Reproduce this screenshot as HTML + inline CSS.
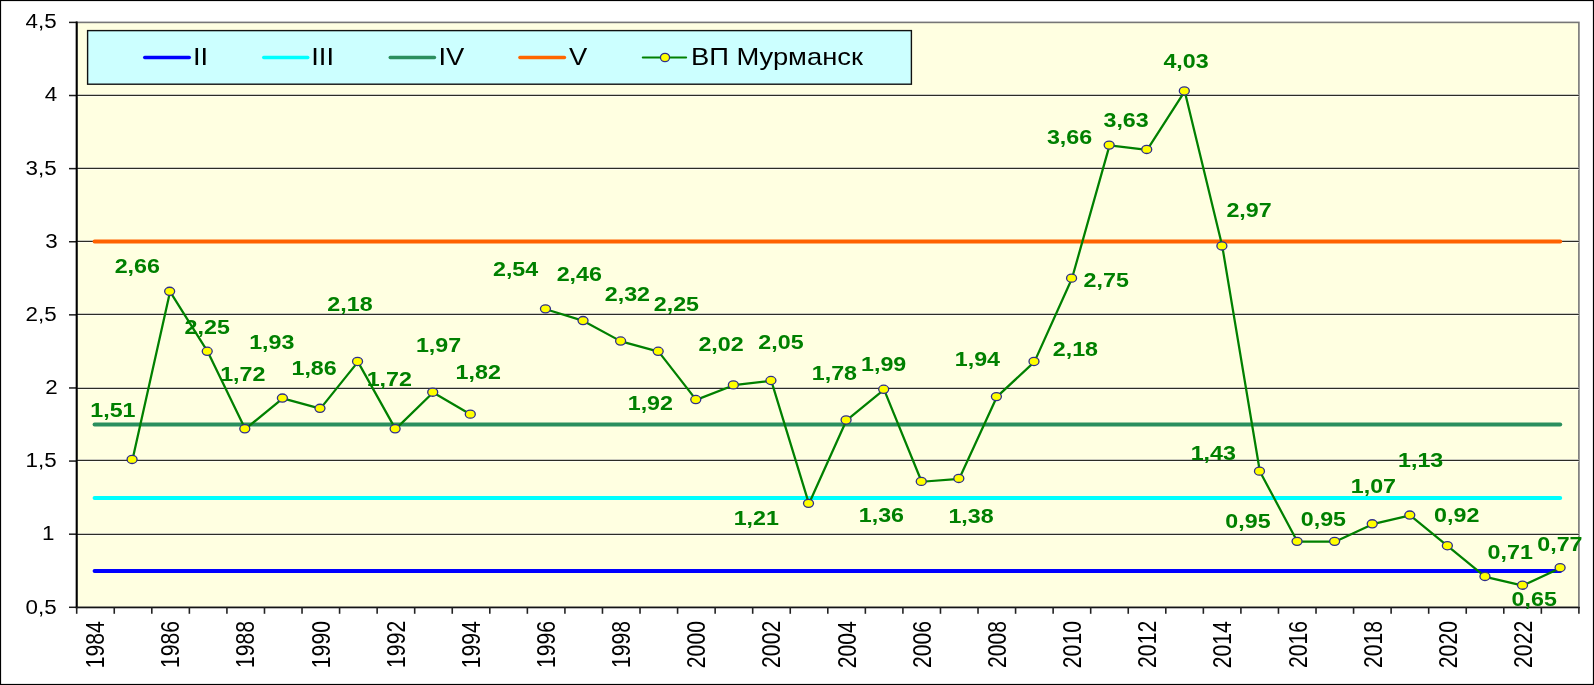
<!DOCTYPE html>
<html><head><meta charset="utf-8"><style>
html,body{margin:0;padding:0;background:#fff;width:1594px;height:685px;overflow:hidden}
svg{display:block;will-change:transform}
text{font-family:"Liberation Sans",Arial,sans-serif}
</style></head><body>
<svg width="1594" height="685" viewBox="0 0 1594 685">
<rect x="0" y="0" width="1594" height="685" fill="#ffffff"/>
<rect x="76.70" y="22.40" width="1502.20" height="584.90" fill="#FFFFE1" stroke="#767676" stroke-width="1.6"/>
<line x1="76.70" y1="95.50" x2="1578.90" y2="95.50" stroke="#fff" stroke-opacity="0.55" stroke-width="3.2"/>
<line x1="76.70" y1="95.42" x2="1578.90" y2="95.42" stroke="#2c2c26" stroke-width="1.3"/>
<line x1="76.70" y1="168.50" x2="1578.90" y2="168.50" stroke="#fff" stroke-opacity="0.55" stroke-width="3.2"/>
<line x1="76.70" y1="168.42" x2="1578.90" y2="168.42" stroke="#2c2c26" stroke-width="1.3"/>
<line x1="76.70" y1="241.50" x2="1578.90" y2="241.50" stroke="#fff" stroke-opacity="0.55" stroke-width="3.2"/>
<line x1="76.70" y1="241.42" x2="1578.90" y2="241.42" stroke="#2c2c26" stroke-width="1.3"/>
<line x1="76.70" y1="314.50" x2="1578.90" y2="314.50" stroke="#fff" stroke-opacity="0.55" stroke-width="3.2"/>
<line x1="76.70" y1="314.42" x2="1578.90" y2="314.42" stroke="#2c2c26" stroke-width="1.3"/>
<line x1="76.70" y1="388.50" x2="1578.90" y2="388.50" stroke="#fff" stroke-opacity="0.55" stroke-width="3.2"/>
<line x1="76.70" y1="388.42" x2="1578.90" y2="388.42" stroke="#2c2c26" stroke-width="1.3"/>
<line x1="76.70" y1="460.50" x2="1578.90" y2="460.50" stroke="#fff" stroke-opacity="0.55" stroke-width="3.2"/>
<line x1="76.70" y1="460.42" x2="1578.90" y2="460.42" stroke="#2c2c26" stroke-width="1.3"/>
<line x1="76.70" y1="534.50" x2="1578.90" y2="534.50" stroke="#fff" stroke-opacity="0.55" stroke-width="3.2"/>
<line x1="76.70" y1="534.42" x2="1578.90" y2="534.42" stroke="#2c2c26" stroke-width="1.3"/>
<line x1="69" y1="22.40" x2="76.70" y2="22.40" stroke="#1a1a1a" stroke-width="1.5"/>
<text transform="translate(25.49,27.52) scale(1.160,1)" font-size="19.30" fill="#000">4,5</text>
<line x1="69" y1="95.51" x2="76.70" y2="95.51" stroke="#1a1a1a" stroke-width="1.5"/>
<text transform="translate(44.76,101.42) scale(1.160,1)" font-size="19.30" fill="#000">4</text>
<line x1="69" y1="168.62" x2="76.70" y2="168.62" stroke="#1a1a1a" stroke-width="1.5"/>
<text transform="translate(25.49,174.62) scale(1.160,1)" font-size="19.30" fill="#000">3,5</text>
<line x1="69" y1="241.74" x2="76.70" y2="241.74" stroke="#1a1a1a" stroke-width="1.5"/>
<text transform="translate(45.15,247.53) scale(1.160,1)" font-size="19.30" fill="#000">3</text>
<line x1="69" y1="314.85" x2="76.70" y2="314.85" stroke="#1a1a1a" stroke-width="1.5"/>
<text transform="translate(25.49,321.02) scale(1.160,1)" font-size="19.30" fill="#000">2,5</text>
<line x1="69" y1="387.96" x2="76.70" y2="387.96" stroke="#1a1a1a" stroke-width="1.5"/>
<text transform="translate(45.29,393.73) scale(1.160,1)" font-size="19.30" fill="#000">2</text>
<line x1="69" y1="461.07" x2="76.70" y2="461.07" stroke="#1a1a1a" stroke-width="1.5"/>
<text transform="translate(25.49,467.32) scale(1.160,1)" font-size="19.30" fill="#000">1,5</text>
<line x1="69" y1="534.19" x2="76.70" y2="534.19" stroke="#1a1a1a" stroke-width="1.5"/>
<text transform="translate(42.09,539.92) scale(1.160,1)" font-size="19.30" fill="#000">1</text>
<line x1="69" y1="607.30" x2="76.70" y2="607.30" stroke="#1a1a1a" stroke-width="1.5"/>
<text transform="translate(25.49,613.52) scale(1.160,1)" font-size="19.30" fill="#000">0,5</text>
<line x1="94.59" y1="570.90" x2="1560.21" y2="570.90" stroke="#0000FF" stroke-width="4" stroke-linecap="round"/>
<line x1="94.59" y1="498.00" x2="1560.21" y2="498.00" stroke="#00FFFF" stroke-width="4" stroke-linecap="round"/>
<line x1="94.59" y1="424.40" x2="1560.21" y2="424.40" stroke="#2A8F5E" stroke-width="4" stroke-linecap="round"/>
<line x1="94.59" y1="241.50" x2="1560.21" y2="241.50" stroke="#FF6200" stroke-width="4" stroke-linecap="round"/>
<polyline points="132.47,459.81 170.05,291.65 207.63,351.61 245.21,429.11 282.79,398.40 320.37,408.63 357.95,361.84 395.53,429.11 433.11,392.55 470.69,414.48" fill="none" stroke="#008000" stroke-width="2.25" stroke-linejoin="round"/>
<polyline points="545.85,309.20 583.43,320.90 621.01,341.37 658.59,351.61 696.17,399.86 733.75,385.24 771.33,380.85 808.91,503.68 846.49,420.33 884.07,389.62 921.65,481.75 959.23,478.82 996.81,396.94 1034.39,361.84 1071.97,278.49 1109.55,145.43 1147.13,149.82 1184.71,91.33 1222.29,246.32 1259.87,471.51 1297.45,541.70 1335.03,541.70 1372.61,524.15 1410.19,515.38 1447.77,546.09 1485.35,576.79 1522.93,585.57 1560.51,568.02" fill="none" stroke="#008000" stroke-width="2.25" stroke-linejoin="round"/>
<ellipse cx="132.07" cy="459.46" rx="5.0" ry="4.05" fill="#FFFF00" stroke="#2E2E8A" stroke-width="1.3"/>
<ellipse cx="169.65" cy="291.30" rx="5.0" ry="4.05" fill="#FFFF00" stroke="#2E2E8A" stroke-width="1.3"/>
<ellipse cx="207.23" cy="351.26" rx="5.0" ry="4.05" fill="#FFFF00" stroke="#2E2E8A" stroke-width="1.3"/>
<ellipse cx="244.81" cy="428.76" rx="5.0" ry="4.05" fill="#FFFF00" stroke="#2E2E8A" stroke-width="1.3"/>
<ellipse cx="282.39" cy="398.05" rx="5.0" ry="4.05" fill="#FFFF00" stroke="#2E2E8A" stroke-width="1.3"/>
<ellipse cx="319.97" cy="408.28" rx="5.0" ry="4.05" fill="#FFFF00" stroke="#2E2E8A" stroke-width="1.3"/>
<ellipse cx="357.55" cy="361.49" rx="5.0" ry="4.05" fill="#FFFF00" stroke="#2E2E8A" stroke-width="1.3"/>
<ellipse cx="395.13" cy="428.76" rx="5.0" ry="4.05" fill="#FFFF00" stroke="#2E2E8A" stroke-width="1.3"/>
<ellipse cx="432.71" cy="392.20" rx="5.0" ry="4.05" fill="#FFFF00" stroke="#2E2E8A" stroke-width="1.3"/>
<ellipse cx="470.29" cy="414.13" rx="5.0" ry="4.05" fill="#FFFF00" stroke="#2E2E8A" stroke-width="1.3"/>
<ellipse cx="545.45" cy="308.85" rx="5.0" ry="4.05" fill="#FFFF00" stroke="#2E2E8A" stroke-width="1.3"/>
<ellipse cx="583.03" cy="320.55" rx="5.0" ry="4.05" fill="#FFFF00" stroke="#2E2E8A" stroke-width="1.3"/>
<ellipse cx="620.61" cy="341.02" rx="5.0" ry="4.05" fill="#FFFF00" stroke="#2E2E8A" stroke-width="1.3"/>
<ellipse cx="658.19" cy="351.26" rx="5.0" ry="4.05" fill="#FFFF00" stroke="#2E2E8A" stroke-width="1.3"/>
<ellipse cx="695.77" cy="399.51" rx="5.0" ry="4.05" fill="#FFFF00" stroke="#2E2E8A" stroke-width="1.3"/>
<ellipse cx="733.35" cy="384.89" rx="5.0" ry="4.05" fill="#FFFF00" stroke="#2E2E8A" stroke-width="1.3"/>
<ellipse cx="770.93" cy="380.50" rx="5.0" ry="4.05" fill="#FFFF00" stroke="#2E2E8A" stroke-width="1.3"/>
<ellipse cx="808.51" cy="503.33" rx="5.0" ry="4.05" fill="#FFFF00" stroke="#2E2E8A" stroke-width="1.3"/>
<ellipse cx="846.09" cy="419.98" rx="5.0" ry="4.05" fill="#FFFF00" stroke="#2E2E8A" stroke-width="1.3"/>
<ellipse cx="883.67" cy="389.27" rx="5.0" ry="4.05" fill="#FFFF00" stroke="#2E2E8A" stroke-width="1.3"/>
<ellipse cx="921.25" cy="481.40" rx="5.0" ry="4.05" fill="#FFFF00" stroke="#2E2E8A" stroke-width="1.3"/>
<ellipse cx="958.83" cy="478.47" rx="5.0" ry="4.05" fill="#FFFF00" stroke="#2E2E8A" stroke-width="1.3"/>
<ellipse cx="996.41" cy="396.59" rx="5.0" ry="4.05" fill="#FFFF00" stroke="#2E2E8A" stroke-width="1.3"/>
<ellipse cx="1033.99" cy="361.49" rx="5.0" ry="4.05" fill="#FFFF00" stroke="#2E2E8A" stroke-width="1.3"/>
<ellipse cx="1071.57" cy="278.14" rx="5.0" ry="4.05" fill="#FFFF00" stroke="#2E2E8A" stroke-width="1.3"/>
<ellipse cx="1109.15" cy="145.08" rx="5.0" ry="4.05" fill="#FFFF00" stroke="#2E2E8A" stroke-width="1.3"/>
<ellipse cx="1146.73" cy="149.47" rx="5.0" ry="4.05" fill="#FFFF00" stroke="#2E2E8A" stroke-width="1.3"/>
<ellipse cx="1184.31" cy="90.98" rx="5.0" ry="4.05" fill="#FFFF00" stroke="#2E2E8A" stroke-width="1.3"/>
<ellipse cx="1221.89" cy="245.97" rx="5.0" ry="4.05" fill="#FFFF00" stroke="#2E2E8A" stroke-width="1.3"/>
<ellipse cx="1259.47" cy="471.16" rx="5.0" ry="4.05" fill="#FFFF00" stroke="#2E2E8A" stroke-width="1.3"/>
<ellipse cx="1297.05" cy="541.35" rx="5.0" ry="4.05" fill="#FFFF00" stroke="#2E2E8A" stroke-width="1.3"/>
<ellipse cx="1334.63" cy="541.35" rx="5.0" ry="4.05" fill="#FFFF00" stroke="#2E2E8A" stroke-width="1.3"/>
<ellipse cx="1372.21" cy="523.80" rx="5.0" ry="4.05" fill="#FFFF00" stroke="#2E2E8A" stroke-width="1.3"/>
<ellipse cx="1409.79" cy="515.03" rx="5.0" ry="4.05" fill="#FFFF00" stroke="#2E2E8A" stroke-width="1.3"/>
<ellipse cx="1447.37" cy="545.74" rx="5.0" ry="4.05" fill="#FFFF00" stroke="#2E2E8A" stroke-width="1.3"/>
<ellipse cx="1484.95" cy="576.44" rx="5.0" ry="4.05" fill="#FFFF00" stroke="#2E2E8A" stroke-width="1.3"/>
<ellipse cx="1522.53" cy="585.22" rx="5.0" ry="4.05" fill="#FFFF00" stroke="#2E2E8A" stroke-width="1.3"/>
<ellipse cx="1560.11" cy="567.67" rx="5.0" ry="4.05" fill="#FFFF00" stroke="#2E2E8A" stroke-width="1.3"/>
<line x1="76.70" y1="21.60" x2="76.70" y2="608.30" stroke="#000" stroke-width="2"/>
<line x1="75.70" y1="607.50" x2="1579.70" y2="607.50" stroke="#141414" stroke-width="1.7"/>
<line x1="76.70" y1="607.30" x2="76.70" y2="613.8" stroke="#222" stroke-width="1.6"/>
<line x1="114.25" y1="607.30" x2="114.25" y2="613.8" stroke="#222" stroke-width="1.6"/>
<line x1="151.81" y1="607.30" x2="151.81" y2="613.8" stroke="#222" stroke-width="1.6"/>
<line x1="189.37" y1="607.30" x2="189.37" y2="613.8" stroke="#222" stroke-width="1.6"/>
<line x1="226.92" y1="607.30" x2="226.92" y2="613.8" stroke="#222" stroke-width="1.6"/>
<line x1="264.48" y1="607.30" x2="264.48" y2="613.8" stroke="#222" stroke-width="1.6"/>
<line x1="302.03" y1="607.30" x2="302.03" y2="613.8" stroke="#222" stroke-width="1.6"/>
<line x1="339.58" y1="607.30" x2="339.58" y2="613.8" stroke="#222" stroke-width="1.6"/>
<line x1="377.14" y1="607.30" x2="377.14" y2="613.8" stroke="#222" stroke-width="1.6"/>
<line x1="414.69" y1="607.30" x2="414.69" y2="613.8" stroke="#222" stroke-width="1.6"/>
<line x1="452.25" y1="607.30" x2="452.25" y2="613.8" stroke="#222" stroke-width="1.6"/>
<line x1="489.81" y1="607.30" x2="489.81" y2="613.8" stroke="#222" stroke-width="1.6"/>
<line x1="527.36" y1="607.30" x2="527.36" y2="613.8" stroke="#222" stroke-width="1.6"/>
<line x1="564.92" y1="607.30" x2="564.92" y2="613.8" stroke="#222" stroke-width="1.6"/>
<line x1="602.47" y1="607.30" x2="602.47" y2="613.8" stroke="#222" stroke-width="1.6"/>
<line x1="640.03" y1="607.30" x2="640.03" y2="613.8" stroke="#222" stroke-width="1.6"/>
<line x1="677.58" y1="607.30" x2="677.58" y2="613.8" stroke="#222" stroke-width="1.6"/>
<line x1="715.14" y1="607.30" x2="715.14" y2="613.8" stroke="#222" stroke-width="1.6"/>
<line x1="752.69" y1="607.30" x2="752.69" y2="613.8" stroke="#222" stroke-width="1.6"/>
<line x1="790.25" y1="607.30" x2="790.25" y2="613.8" stroke="#222" stroke-width="1.6"/>
<line x1="827.80" y1="607.30" x2="827.80" y2="613.8" stroke="#222" stroke-width="1.6"/>
<line x1="865.36" y1="607.30" x2="865.36" y2="613.8" stroke="#222" stroke-width="1.6"/>
<line x1="902.91" y1="607.30" x2="902.91" y2="613.8" stroke="#222" stroke-width="1.6"/>
<line x1="940.47" y1="607.30" x2="940.47" y2="613.8" stroke="#222" stroke-width="1.6"/>
<line x1="978.02" y1="607.30" x2="978.02" y2="613.8" stroke="#222" stroke-width="1.6"/>
<line x1="1015.58" y1="607.30" x2="1015.58" y2="613.8" stroke="#222" stroke-width="1.6"/>
<line x1="1053.13" y1="607.30" x2="1053.13" y2="613.8" stroke="#222" stroke-width="1.6"/>
<line x1="1090.68" y1="607.30" x2="1090.68" y2="613.8" stroke="#222" stroke-width="1.6"/>
<line x1="1128.24" y1="607.30" x2="1128.24" y2="613.8" stroke="#222" stroke-width="1.6"/>
<line x1="1165.80" y1="607.30" x2="1165.80" y2="613.8" stroke="#222" stroke-width="1.6"/>
<line x1="1203.35" y1="607.30" x2="1203.35" y2="613.8" stroke="#222" stroke-width="1.6"/>
<line x1="1240.91" y1="607.30" x2="1240.91" y2="613.8" stroke="#222" stroke-width="1.6"/>
<line x1="1278.46" y1="607.30" x2="1278.46" y2="613.8" stroke="#222" stroke-width="1.6"/>
<line x1="1316.02" y1="607.30" x2="1316.02" y2="613.8" stroke="#222" stroke-width="1.6"/>
<line x1="1353.57" y1="607.30" x2="1353.57" y2="613.8" stroke="#222" stroke-width="1.6"/>
<line x1="1391.12" y1="607.30" x2="1391.12" y2="613.8" stroke="#222" stroke-width="1.6"/>
<line x1="1428.68" y1="607.30" x2="1428.68" y2="613.8" stroke="#222" stroke-width="1.6"/>
<line x1="1466.24" y1="607.30" x2="1466.24" y2="613.8" stroke="#222" stroke-width="1.6"/>
<line x1="1503.79" y1="607.30" x2="1503.79" y2="613.8" stroke="#222" stroke-width="1.6"/>
<line x1="1541.35" y1="607.30" x2="1541.35" y2="613.8" stroke="#222" stroke-width="1.6"/>
<line x1="1578.90" y1="607.30" x2="1578.90" y2="613.8" stroke="#222" stroke-width="1.6"/>
<text transform="translate(104.02,668.31) rotate(-90) scale(1.060,1.270)" font-size="20.0" fill="#000">1984</text>
<text transform="translate(179.18,668.04) rotate(-90) scale(1.060,1.270)" font-size="20.0" fill="#000">1986</text>
<text transform="translate(254.34,668.04) rotate(-90) scale(1.060,1.270)" font-size="20.0" fill="#000">1988</text>
<text transform="translate(329.50,668.17) rotate(-90) scale(1.060,1.270)" font-size="20.0" fill="#000">1990</text>
<text transform="translate(404.66,667.91) rotate(-90) scale(1.060,1.270)" font-size="20.0" fill="#000">1992</text>
<text transform="translate(479.82,668.31) rotate(-90) scale(1.060,1.270)" font-size="20.0" fill="#000">1994</text>
<text transform="translate(554.98,668.04) rotate(-90) scale(1.060,1.270)" font-size="20.0" fill="#000">1996</text>
<text transform="translate(630.14,668.04) rotate(-90) scale(1.060,1.270)" font-size="20.0" fill="#000">1998</text>
<text transform="translate(705.30,668.17) rotate(-90) scale(1.060,1.270)" font-size="20.0" fill="#000">2000</text>
<text transform="translate(780.46,667.91) rotate(-90) scale(1.060,1.270)" font-size="20.0" fill="#000">2002</text>
<text transform="translate(855.62,668.31) rotate(-90) scale(1.060,1.270)" font-size="20.0" fill="#000">2004</text>
<text transform="translate(930.78,668.04) rotate(-90) scale(1.060,1.270)" font-size="20.0" fill="#000">2006</text>
<text transform="translate(1005.94,668.04) rotate(-90) scale(1.060,1.270)" font-size="20.0" fill="#000">2008</text>
<text transform="translate(1081.10,668.17) rotate(-90) scale(1.060,1.270)" font-size="20.0" fill="#000">2010</text>
<text transform="translate(1156.26,667.91) rotate(-90) scale(1.060,1.270)" font-size="20.0" fill="#000">2012</text>
<text transform="translate(1231.42,668.31) rotate(-90) scale(1.060,1.270)" font-size="20.0" fill="#000">2014</text>
<text transform="translate(1306.58,668.04) rotate(-90) scale(1.060,1.270)" font-size="20.0" fill="#000">2016</text>
<text transform="translate(1381.74,668.04) rotate(-90) scale(1.060,1.270)" font-size="20.0" fill="#000">2018</text>
<text transform="translate(1456.90,668.17) rotate(-90) scale(1.060,1.270)" font-size="20.0" fill="#000">2020</text>
<text transform="translate(1532.06,667.91) rotate(-90) scale(1.060,1.270)" font-size="20.0" fill="#000">2022</text>
<text transform="translate(90.29,416.90) scale(1.140,1)" font-size="20.40" font-weight="bold" fill="#008000">1,51</text>
<text transform="translate(114.64,272.90) scale(1.140,1)" font-size="20.40" font-weight="bold" fill="#008000">2,66</text>
<text transform="translate(184.62,334.25) scale(1.140,1)" font-size="20.40" font-weight="bold" fill="#008000">2,25</text>
<text transform="translate(220.13,381.40) scale(1.140,1)" font-size="20.40" font-weight="bold" fill="#008000">1,72</text>
<text transform="translate(249.16,348.55) scale(1.140,1)" font-size="20.40" font-weight="bold" fill="#008000">1,93</text>
<text transform="translate(291.46,374.60) scale(1.140,1)" font-size="20.40" font-weight="bold" fill="#008000">1,86</text>
<text transform="translate(327.32,310.95) scale(1.140,1)" font-size="20.40" font-weight="bold" fill="#008000">2,18</text>
<text transform="translate(366.63,385.65) scale(1.140,1)" font-size="20.40" font-weight="bold" fill="#008000">1,72</text>
<text transform="translate(415.95,351.80) scale(1.140,1)" font-size="20.40" font-weight="bold" fill="#008000">1,97</text>
<text transform="translate(455.58,379.20) scale(1.140,1)" font-size="20.40" font-weight="bold" fill="#008000">1,82</text>
<text transform="translate(492.99,276.20) scale(1.140,1)" font-size="20.40" font-weight="bold" fill="#008000">2,54</text>
<text transform="translate(556.64,280.60) scale(1.140,1)" font-size="20.40" font-weight="bold" fill="#008000">2,46</text>
<text transform="translate(604.81,301.30) scale(1.140,1)" font-size="20.40" font-weight="bold" fill="#008000">2,32</text>
<text transform="translate(653.77,311.20) scale(1.140,1)" font-size="20.40" font-weight="bold" fill="#008000">2,25</text>
<text transform="translate(627.73,409.60) scale(1.140,1)" font-size="20.40" font-weight="bold" fill="#008000">1,92</text>
<text transform="translate(698.41,351.40) scale(1.140,1)" font-size="20.40" font-weight="bold" fill="#008000">2,02</text>
<text transform="translate(758.37,349.20) scale(1.140,1)" font-size="20.40" font-weight="bold" fill="#008000">2,05</text>
<text transform="translate(733.69,524.50) scale(1.140,1)" font-size="20.40" font-weight="bold" fill="#008000">1,21</text>
<text transform="translate(811.79,379.80) scale(1.140,1)" font-size="20.40" font-weight="bold" fill="#008000">1,78</text>
<text transform="translate(861.06,371.40) scale(1.140,1)" font-size="20.40" font-weight="bold" fill="#008000">1,99</text>
<text transform="translate(858.76,521.90) scale(1.140,1)" font-size="20.40" font-weight="bold" fill="#008000">1,36</text>
<text transform="translate(948.39,523.40) scale(1.140,1)" font-size="20.40" font-weight="bold" fill="#008000">1,38</text>
<text transform="translate(954.80,366.00) scale(1.140,1)" font-size="20.40" font-weight="bold" fill="#008000">1,94</text>
<text transform="translate(1052.77,355.95) scale(1.140,1)" font-size="20.40" font-weight="bold" fill="#008000">2,18</text>
<text transform="translate(1083.57,286.75) scale(1.140,1)" font-size="20.40" font-weight="bold" fill="#008000">2,75</text>
<text transform="translate(1046.88,144.00) scale(1.140,1)" font-size="20.40" font-weight="bold" fill="#008000">3,66</text>
<text transform="translate(1103.48,126.50) scale(1.140,1)" font-size="20.40" font-weight="bold" fill="#008000">3,63</text>
<text transform="translate(1163.43,68.30) scale(1.140,1)" font-size="20.40" font-weight="bold" fill="#008000">4,03</text>
<text transform="translate(1226.38,217.30) scale(1.140,1)" font-size="20.40" font-weight="bold" fill="#008000">2,97</text>
<text transform="translate(1190.66,459.80) scale(1.140,1)" font-size="20.40" font-weight="bold" fill="#008000">1,43</text>
<text transform="translate(1225.37,528.10) scale(1.140,1)" font-size="20.40" font-weight="bold" fill="#008000">0,95</text>
<text transform="translate(1300.77,526.20) scale(1.140,1)" font-size="20.40" font-weight="bold" fill="#008000">0,95</text>
<text transform="translate(1350.80,492.60) scale(1.140,1)" font-size="20.40" font-weight="bold" fill="#008000">1,07</text>
<text transform="translate(1398.06,466.50) scale(1.140,1)" font-size="20.40" font-weight="bold" fill="#008000">1,13</text>
<text transform="translate(1434.11,522.10) scale(1.140,1)" font-size="20.40" font-weight="bold" fill="#008000">0,92</text>
<text transform="translate(1487.57,559.30) scale(1.140,1)" font-size="20.40" font-weight="bold" fill="#008000">0,71</text>
<text transform="translate(1511.57,605.50) scale(1.140,1)" font-size="20.40" font-weight="bold" fill="#008000">0,65</text>
<text transform="translate(1537.28,551.00) scale(1.140,1)" font-size="20.40" font-weight="bold" fill="#008000">0,77</text>
<rect x="87.6" y="30.6" width="823.8" height="53.6" fill="#CCFFFF" stroke="#111" stroke-width="1.4"/>
<line x1="144.7" y1="57.5" x2="189.3" y2="57.5" stroke="#0000FF" stroke-width="3.4" stroke-linecap="round"/>
<text transform="translate(192.94,65.00) scale(1.160,1)" font-size="23.60" fill="#000">II</text>
<line x1="263.7" y1="57.5" x2="307.8" y2="57.5" stroke="#00FFFF" stroke-width="3.4" stroke-linecap="round"/>
<text transform="translate(311.24,65.00) scale(1.160,1)" font-size="23.60" fill="#000">III</text>
<line x1="390.2" y1="57.5" x2="434.5" y2="57.5" stroke="#2A8F5E" stroke-width="3.4" stroke-linecap="round"/>
<text transform="translate(438.44,65.00) scale(1.160,1)" font-size="23.60" fill="#000">IV</text>
<line x1="519.9" y1="57.5" x2="564.5" y2="57.5" stroke="#FF6600" stroke-width="3.4" stroke-linecap="round"/>
<text transform="translate(569.06,65.00) scale(1.160,1)" font-size="23.60" fill="#000">V</text>
<line x1="642.8" y1="57.5" x2="686.1" y2="57.5" stroke="#008000" stroke-width="2.1" stroke-linecap="round"/>
<ellipse cx="665.0" cy="57.5" rx="4.55" ry="4.15" fill="#FFFF00" stroke="#2E2E8A" stroke-width="1.25"/>
<text transform="translate(690.88,65.00) scale(1.160,1)" font-size="23.60" fill="#000">ВП Мурманск</text>
<rect x="0.5" y="0.5" width="1593" height="684" fill="none" stroke="#000" stroke-width="1.2"/>
</svg>
</body></html>
